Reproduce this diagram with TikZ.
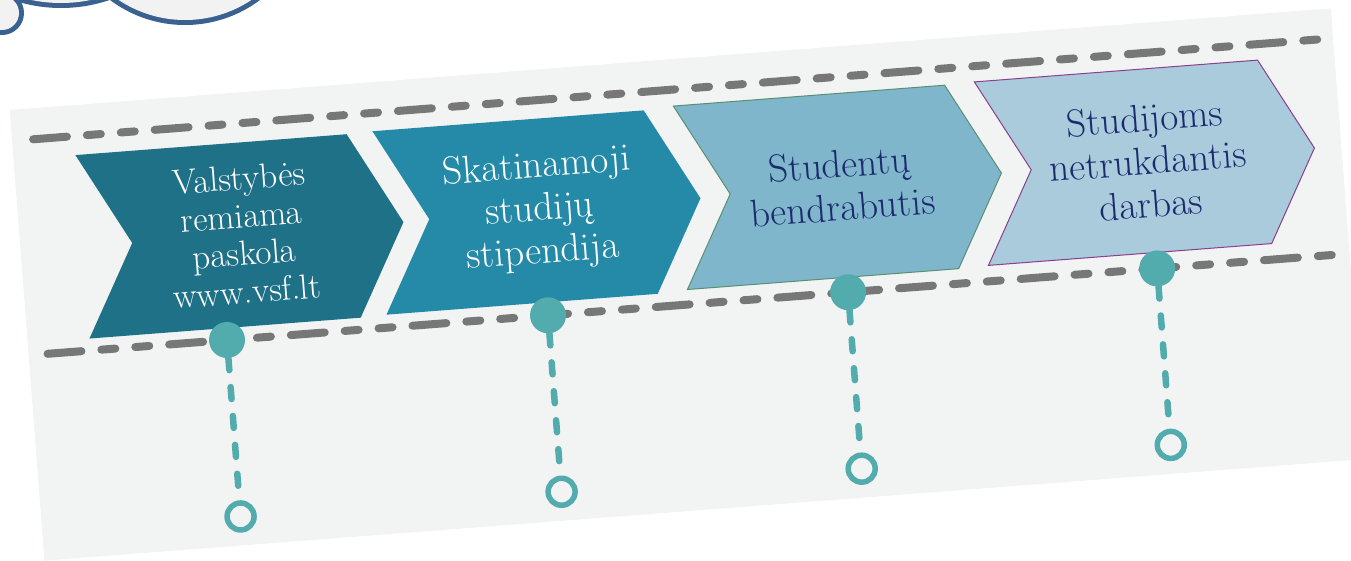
\documentclass[tikz,border=0pt]{standalone}
\usepackage{fontspec}
\usetikzlibrary{shapes.symbols}

\definecolor{panelgray}{HTML}{F2F3F3}
\definecolor{railgray}{HTML}{777777}
\definecolor{dotteal}{HTML}{52ABAD}
\definecolor{chevdark}{HTML}{1F7187}
\definecolor{chevmid}{HTML}{248AA7}
\definecolor{chevlight}{HTML}{7FB6CC}
\definecolor{chevpale}{HTML}{A9CBDC}
\definecolor{edgegreen}{HTML}{5A8F73}
\definecolor{edgepurple}{HTML}{8B3F8F}
\definecolor{navytext}{HTML}{1C2A6E}
\definecolor{cloudblue}{HTML}{3A6291}
\definecolor{cloudfill}{HTML}{F2F2F2}

\begin{document}
\begin{tikzpicture}[x = 1pt, y = -1pt,
    chev/.style={shape=signal, signal from=west, signal to=east, signal pointer angle=123,
        minimum width=322pt, minimum height=184pt, inner sep=0pt, align=center,
        transform shape, font=\fontsize{39}{43}\selectfont},
    dot/.style={circle, fill=dotteal, minimum size=36pt, inner sep=0pt},
    ring/.style={circle, draw=dotteal, line width=5.5pt, fill=panelgray, minimum size=27pt, inner sep=0pt},
    link/.style={draw=dotteal, line width=6.5pt, line cap=round, dash pattern=on 12pt off 17pt},
    rail/.style={draw=railgray, line width=8pt, line cap=round,
        dash pattern=on 34pt off 20pt on 14pt off 20pt on 14pt off 20pt},
    bump/.style={draw=cloudblue, line width=10pt, fill=cloudfill}]
	\useasboundingbox (0, 0) rectangle (1351, 561);
	\clip (0, 0) rectangle (1351, 561);
	
	% Cloud
	\draw[bump] (2, 13) circle (17pt);
	\draw[bump] (61, -143) circle (146pt);
	\draw[bump] (185, -100) circle (120pt);
	\fill[cloudfill] (2, 13) circle (17pt) (61, -143) circle (146pt) (185, -100) circle (120pt);
	
	\begin{scope}[shift={(227, 340)}, rotate=4.4]
		% Panel
		\fill[panelgray] (-199, -246) rectangle (1126, 206);
		
		% Rails
		\coordinate (tl) at (-178, -215);
		\coordinate (tr) at (1115, -216);
		\coordinate (bl) at (-180, 0);
		\coordinate (br) at (1124, 0);
		\draw[rail] (tl) -- (tr);
		\draw[rail] (bl) -- (br);
		
		% Steps
		\node[chev, fill=chevdark, text=white, font=\fontsize{35}{38}\selectfont] (c1) at (24, -104) {Valstybės\\remiama\\paskola\\www.vsf.lt};
		\node[chev, fill=chevmid, text=white] (c2) at (322, -105) {Skatinamoji\\studijų\\stipendija};
		\node[chev, fill=chevlight, draw=edgegreen, line width=1pt, text=navytext] (c3) at (624, -107) {Studentų\\bendrabutis};
		\node[chev, fill=chevpale, draw=edgepurple, line width=1pt, text=navytext, minimum width=334pt] (c4) at (932, -108) {Studijoms\\netrukdantis\\darbas};
		
		% Dots on the rail
		\node[dot] (d1) at (0, 0) {};
		\node[dot] (d2) at (322, 0) {};
		\node[dot] (d3) at (623, 0) {};
		\node[dot] (d4) at (933, 0) {};
		
		% Rings
		\node[ring] (r1) at (0, 177) {};
		\node[ring] (r2) at (322, 177) {};
		\node[ring] (r3) at (623, 177) {};
		\node[ring] (r4) at (933, 177) {};
		
		% Dot to ring
		\draw[link] (d1) -- (r1);
		\draw[link] (d2) -- (r2);
		\draw[link] (d3) -- (r3);
		\draw[link] (d4) -- (r4);
	\end{scope}
\end{tikzpicture}
\end{document}
